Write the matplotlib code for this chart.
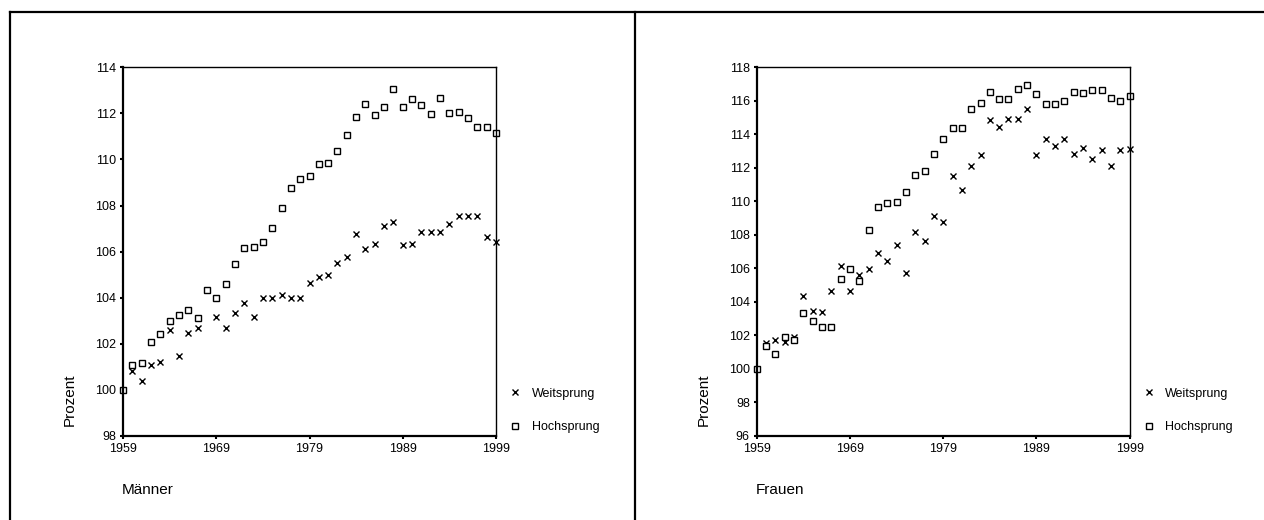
import matplotlib
matplotlib.use("Agg")
import matplotlib.pyplot as plt
from matplotlib.lines import Line2D

plt.rcParams['font.family'] = ['Liberation Sans', 'DejaVu Sans']

years = list(range(1959, 2000))

# Männer, Index 1959 = 100
m_weit = [100.0, 100.8, 100.38, 101.07, 101.22, 102.59, 101.48, 102.49, 102.7, 104.32,
          103.17, 102.7, 103.33, 103.75, 103.17, 103.97, 103.97, 104.12, 103.97, 103.97,
          104.65, 104.92, 104.97, 105.51, 105.75, 106.78, 106.1, 106.33, 107.1, 107.3,
          106.28, 106.33, 106.84, 106.84, 106.84, 107.22, 107.54, 107.54, 107.54, 106.64,
          106.41]
m_hoch = [100.0, 101.06, 101.16, 102.06, 102.43, 102.97, 103.23, 103.48, 103.12, 104.32,
          104.01, 104.59, 105.45, 106.14, 106.19, 106.42, 107.04, 107.88, 108.78, 109.16,
          109.28, 109.8, 109.84, 110.38, 111.06, 111.86, 112.41, 111.91, 112.28, 113.07,
          112.28, 112.61, 112.35, 111.97, 112.65, 112.03, 112.07, 111.81, 111.43, 111.39,
          111.16]

# Frauen, Index 1959 = 100
f_weit = [100.0, 101.54, 101.72, 101.58, 101.9, 104.36, 103.48, 103.4, 104.64, 106.16,
          104.64, 105.58, 105.96, 106.92, 106.45, 107.38, 105.72, 108.18, 107.66, 109.12,
          108.76, 111.52, 110.66, 112.12, 112.76, 114.88, 114.44, 114.94, 114.94, 115.52,
          112.74, 113.72, 113.32, 113.72, 112.84, 113.2, 112.54, 113.06, 112.12, 113.06,
          113.12]
f_hoch = [100.0, 101.4, 100.92, 101.92, 101.7, 103.32, 102.88, 102.52, 102.52, 105.36,
          105.98, 105.24, 108.3, 109.64, 109.92, 109.98, 110.56, 111.58, 111.82, 112.84,
          113.72, 114.36, 114.36, 115.52, 115.88, 116.5, 116.12, 116.12, 116.7, 116.92,
          116.42, 115.82, 115.82, 115.98, 116.5, 116.44, 116.64, 116.64, 116.18, 115.98,
          116.3]

xticks = [1959, 1969, 1979, 1989, 1999]
m_yticks = list(range(98, 115, 2))
f_yticks = list(range(96, 119, 2))

W, H = 1264, 520
fig = plt.figure(figsize=(W / 100, H / 100), dpi=100)


def draw_panel(left_px, weit, hoch, yticks, title):
    ax = fig.add_axes([left_px / W, (H - 436) / H, 373 / W, (436 - 67.3) / H])
    ax.plot(years, weit, linestyle='none', marker='x', color='black',
            markersize=5, markeredgewidth=1.0, clip_on=False, label='Weitsprung')
    ax.plot(years, hoch, linestyle='none', marker='s', color='black',
            markerfacecolor='white', markersize=4.5, markeredgewidth=1.0,
            clip_on=False, label='Hochsprung')
    ax.set_xlim(1959, 1999)
    ax.set_ylim(yticks[0], yticks[-1])
    ax.set_xticks(xticks)
    ax.set_yticks(yticks)
    ax.tick_params(direction='out', length=2, width=1.5, labelsize=9, pad=3)
    for s in ['left', 'bottom']:
        ax.spines[s].set_linewidth(1.6)
    for s in ['top', 'right']:
        ax.spines[s].set_linewidth(1.0)

    ax.legend(loc='center left', bbox_to_anchor=(1.025, 0.069), frameon=False,
              fontsize=9, handlelength=0.8, handletextpad=0.9,
              labelspacing=1.75, borderaxespad=0)

    fig.text((left_px - 53) / W, 1 - 400 / H, 'Prozent', rotation=90,
             fontsize=11, ha='center', va='center')
    fig.text((left_px - 1) / W, 1 - 490 / H, title, fontsize=11,
             ha='left', va='center')
    return ax


draw_panel(123, m_weit, m_hoch, m_yticks, 'Männer')
draw_panel(756.7, f_weit, f_hoch, f_yticks, 'Frauen')

# Rahmen um beide Teilgrafiken
frame = dict(color='black', linewidth=1.6, transform=fig.transFigure)
fig.add_artist(Line2D([10 / W, 10 / W], [0, 1 - 12 / H], **frame))
fig.add_artist(Line2D([10 / W, 1], [1 - 12 / H, 1 - 12 / H], **frame))
fig.add_artist(Line2D([635 / W, 635 / W], [0, 1 - 12 / H], **frame))

fig.savefig('out.png', dpi=100)
